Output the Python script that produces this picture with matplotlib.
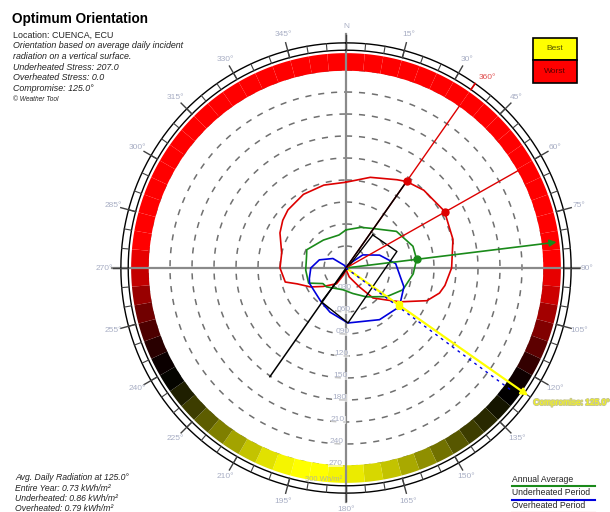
import numpy as np
import matplotlib
matplotlib.use("Agg")
import matplotlib.pyplot as plt
import matplotlib.patheffects as pe
from matplotlib.colors import LinearSegmentedColormap
from matplotlib.patches import Rectangle
from matplotlib.lines import Line2D

plt.rcParams["font.family"] = ["Liberation Sans", "DejaVu Sans"]

# --- data (compass degrees, radiation in Wh/m2) ---
RED_ANG = [0, 15, 30, 35, 45, 60, 75, 90, 100, 105, 112, 122, 128, 138, 145, 160, 180,
           200, 211, 231, 242, 252, 257, 270, 283, 298, 307, 315, 330, 345, 360]
RED_R = [117, 128, 139, 144, 150, 155, 151, 144, 137, 132, 119, 87, 71, 55, 31, 13, 2,
         10, 25, 40, 55, 70, 85, 90, 90, 102, 108, 112, 116, 117, 117]

GREEN_ANG = [0, 20, 34, 54, 72, 83, 95, 111, 125, 145, 165, 188, 226, 236, 248, 267,
             286, 295, 321, 348, 360]
GREEN_R = [52, 59, 65, 85, 96, 97, 92, 83, 68, 48, 36, 30, 37, 38, 55, 55,
           56, 59, 49, 46, 52]

BLUE_ANG = [0, 30, 52, 69, 85, 108, 126, 147, 178, 200, 217, 247, 254, 270, 287, 306,
            330, 345, 360]
BLUE_R = [0, 5, 29, 49, 68, 83, 90, 84, 75, 64, 57, 54, 52, 48, 38, 22,
          4, 0, 0]

# building outline (angle, radius)
BLD_ANG = [39, 72, 178, 216, 39]
BLD_R = [58, 73, 75, 57, 58]

# ring score per 5 deg: 0 = best (yellow), 0.5 = black, 1 = worst (red)
RING_ANG = list(range(0, 360, 5))
RING_SCORE = [1.0, 1.0, 1.0, 1.0, 1.0, 1.0, 1.0, 1.0, 1.0, 1.0, 1.0, 1.0,
              1.0, 1.0, 1.0, 1.0, 1.0, 1.0, 0.95, 0.9, 0.82, 0.75, 0.68, 0.6,
              0.53, 0.5, 0.46, 0.42, 0.38, 0.33, 0.28, 0.22, 0.17, 0.12, 0.08, 0.04,
              0.02, 0.0, 0.0, 0.02, 0.06, 0.12, 0.18, 0.25, 0.32, 0.38, 0.44, 0.49,
              0.52, 0.58, 0.65, 0.72, 0.8, 0.88, 0.95, 1.0, 1.0, 1.0, 1.0, 1.0,
              1.0, 1.0, 1.0, 1.0, 1.0, 1.0, 1.0, 1.0, 1.0, 1.0, 1.0, 1.0]

CIRCLES = [30, 60, 90, 120, 150, 180, 210, 240, 270]
COMPASS = ["N", "15°", "30°", "45°", "60°", "75°", "90°", "105°", "120°", "135°",
           "150°", "165°", "180°", "195°", "210°", "225°", "240°", "255°", "270°",
           "285°", "300°", "315°", "330°", "345°"]

WORST = [35, 60.5]
WORST_MARK = [144, 155]
ANNUAL_BEST = 83
ANNUAL_MARK = 97
COMPROMISE = 125.0
COMP_MARK = 88
UNDER_BEST = 126.5

INFO = ["Location: CUENCA, ECU",
        "Orientation based on average daily incident",
        "radiation on a vertical surface.",
        "Underheated Stress: 207.0",
        "Overheated Stress: 0.0",
        "Compromise: 125.0°",
        "© Weather Tool"]
AVG = ["Avg. Daily Radiation at 125.0°",
       "Entire Year: 0.73 kWh/m²",
       "Underheated: 0.86 kWh/m²",
       "Overheated: 0.79 kWh/m²"]
LEGEND = [("Annual Average", "#1a8a1a"), ("Underheated Period", "#0000dd"),
          ("Overheated Period", "#dd0000")]

W, H = 610, 512
CX, CY = 346, 268
K = 22 / 30          # px per Wh/m2
RMAX = 345
LBL = "#a8aec4"


def rad(a):
    return np.radians(np.asarray(a, dtype=float))


fig = plt.figure(figsize=(W / 100, H / 100), dpi=100)
R = RMAX * K
ax = fig.add_axes([(CX - R) / W, (H - CY - R) / H, 2 * R / W, 2 * R / H],
                  projection="polar")
ax.set_theta_zero_location("N")
ax.set_theta_direction(-1)
ax.set_ylim(0, RMAX)
ax.set_axis_off()

full = np.linspace(0, 2 * np.pi, 361)

# dashed circles
for c in CIRCLES:
    ax.plot(full, np.full_like(full, c), color="#707070", lw=1.1,
            ls=(0, (4, 4.5)), zorder=1)

# colour ring
cmap = LinearSegmentedColormap.from_list("bw", ["#ffff00", "#000000", "#ff0000"])
ax.bar(rad(RING_ANG), 24, width=np.radians(5), bottom=269, align="edge",
       color=cmap(np.array(RING_SCORE)), edgecolor="none", zorder=2)

# double outer circle + ticks
for rr in (297, 307):
    ax.plot(full, np.full_like(full, rr), color="black", lw=1.0, zorder=3)
for a in range(0, 360, 5):
    ax.plot([np.radians(a)] * 2, [297, 307], color="#404040", lw=0.8, zorder=3)
for i, lab in enumerate(COMPASS):
    a = np.radians(i * 15)
    ax.plot([a, a], [297, 318], color="#404040", lw=1.0, zorder=3)
    ax.text(a, 329, lab, color=LBL, fontsize=6, ha="center", va="center")

# axes cross
for a in (0, 90, 180, 270):
    ax.plot([np.radians(a)] * 2, [0, 319], color="#8a8a8a", lw=1.6, zorder=2)

# circle labels along south axis
for c in CIRCLES:
    ax.text(np.radians(183), c - 3, f"{c:03d}", color=LBL, fontsize=6,
            ha="center", va="center", zorder=4,
            bbox=dict(fc="white", ec="none", pad=0.3, alpha=0.6))
ax.text(np.radians(186), 290, "300 Wh/m²", color="#b8b890", fontsize=5.5,
        ha="center", va="center", zorder=4)

# curves
ax.plot(rad(RED_ANG), RED_R, color="#dd0000", lw=1.2, zorder=5)
ax.plot(rad(GREEN_ANG), GREEN_R, color="#1a8a1a", lw=1.2, zorder=5)
ax.plot(rad(BLUE_ANG), BLUE_R, color="#0000dd", lw=1.2, zorder=5)
ax.plot(rad(BLD_ANG), BLD_R, color="black", lw=1.0, zorder=6)

# worst directions
for a, m in zip(WORST, WORST_MARK):
    ax.plot([0, np.radians(a)], [0, 269], color="#dd0000", lw=1.0, zorder=6)
    ax.plot(np.radians(a), m, "o", color="#dd0000", ms=5, zorder=7)
ax.plot([np.radians(WORST[0])] * 2, [297, 307], color="#dd0000", lw=1.2, zorder=4)
ax.text(np.radians(36.5), 324, "360°", color="#e05050", fontsize=6,
        ha="center", va="center")

# building orientation line
ax.plot([np.radians(WORST[0] + 180), np.radians(WORST[0])], [181, 145],
        color="black", lw=1.1, zorder=6)

# annual best
ax.annotate("", xy=(np.radians(ANNUAL_BEST), 293), xytext=(0, 0),
            arrowprops=dict(arrowstyle="-|>", color="#1a8a1a", lw=1.2,
                            mutation_scale=10), zorder=7)
ax.plot(np.radians(ANNUAL_BEST), ANNUAL_MARK, "o", color="#1a8a1a", ms=5, zorder=7)

# underheated best + compromise
ax.plot([0, np.radians(UNDER_BEST)], [0, 283], color="#0000dd", lw=1.0,
        ls=(0, (2, 3)), zorder=7)
ax.annotate("", xy=(np.radians(COMPROMISE), 307), xytext=(0, 0),
            arrowprops=dict(arrowstyle="-|>", color="#ffff00", lw=1.6,
                            mutation_scale=10), zorder=6)
ax.plot(np.radians(COMPROMISE), COMP_MARK, "s", color="#ffff00", ms=5, zorder=8)
ax.text(np.radians(COMPROMISE), 312, "Compromise: 125.0°", color="#ffff00",
        fontsize=6, ha="left", va="top", zorder=8,
        path_effects=[pe.withStroke(linewidth=1.5, foreground="#c8c890")])

# --- figure texts ---
fig.text(12 / W, 1 - 19 / H, "Optimum Orientation", fontsize=9.8,
         fontweight="bold", va="center")
for i, s in enumerate(INFO):
    fig.text(13 / W, 1 - (35 + i * 10.7) / H, s, fontsize=6.4 if i < 6 else 4.8,
             style="normal" if i == 0 else "italic", va="center", color="#222222")
for i, s in enumerate(AVG):
    fig.text(15 / W, 1 - (478 + i * 10.3) / H, s, fontsize=6.2, style="italic",
             va="center", color="#222222")
for i, (s, c) in enumerate(LEGEND):
    y = 479 + i * 13.5
    fig.text(512 / W, 1 - y / H, s, fontsize=6.2, va="center", color="#222222")
    fig.add_artist(Line2D([512 / W, 595 / W], [1 - (y + 7) / H] * 2, color=c, lw=1.5))

# best / worst key
for y0, h, c, s, tc in ((38, 22, "#ffff00", "Best", "#555500"),
                        (60, 23, "#ff0000", "Worst", "#550000")):
    fig.add_artist(Rectangle((533 / W, 1 - (y0 + h) / H), 44 / W, h / H,
                             fc=c, ec="black", lw=1.2))
    fig.text(555 / W, 1 - (y0 + h / 2) / H, s, fontsize=6, ha="center",
             va="center", color=tc)

fig.savefig("out.png", dpi=100)
